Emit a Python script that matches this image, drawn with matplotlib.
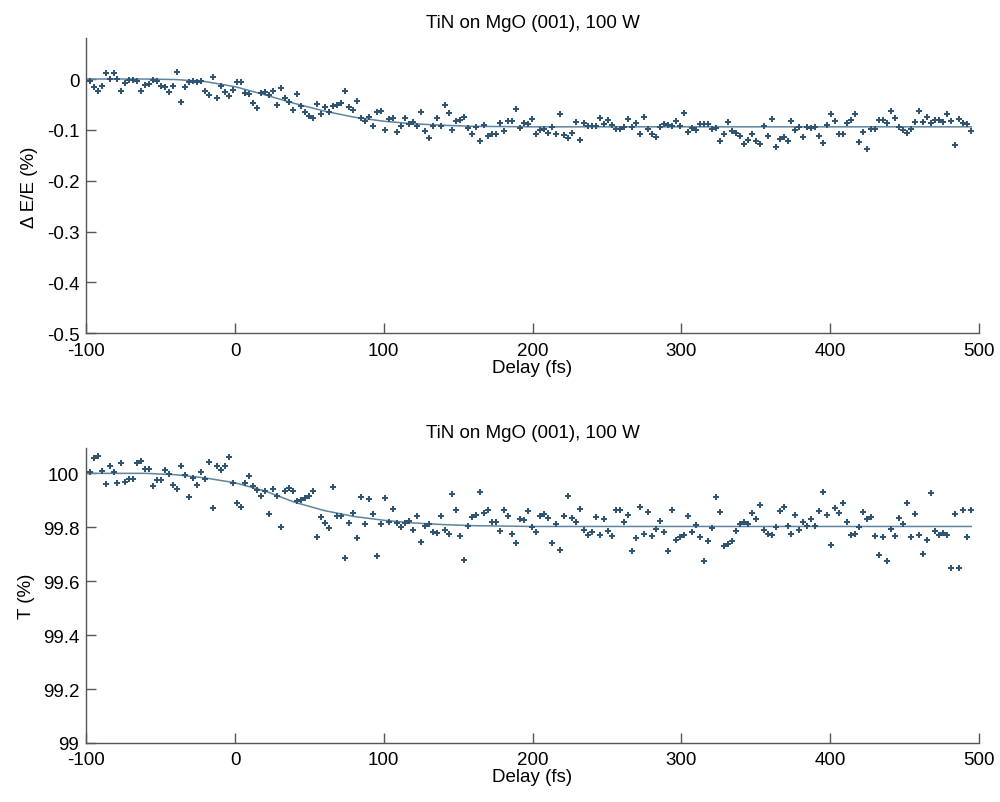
import numpy as np
import matplotlib
matplotlib.use("Agg")
import matplotlib.pyplot as plt

plt.rcParams['font.family'] = ['Liberation Sans', 'DejaVu Sans']

# 上段: ΔE/E (%) の測定値 (約2.67 fs 刻み)
dEE = [
    -0.003, -0.016, -0.023, -0.014, 0.011, 0.000, 0.011, 0.000, -0.023, -0.007,
    -0.001, -0.001, -0.003, -0.023, -0.012, -0.009, -0.001, -0.003, -0.013, -0.016,
    -0.025, -0.013, 0.013, -0.046, -0.016, -0.005, -0.003, -0.005, -0.003, -0.024,
    -0.031, 0.004, -0.037, -0.013, -0.026, -0.034, -0.021, -0.005, -0.005, -0.028,
    -0.029, -0.047, -0.057, -0.028, -0.026, -0.031, -0.024, -0.051, -0.018, -0.037,
    -0.046, -0.060, -0.030, -0.054, -0.064, -0.073,
    -0.076, -0.049, -0.068, -0.055, -0.064, -0.053, -0.051, -0.047, -0.023, -0.055,
    -0.061, -0.043, -0.076, -0.082, -0.074, -0.092, -0.065, -0.063, -0.101, -0.078,
    -0.076, -0.104, -0.092, -0.076, -0.089, -0.084, -0.092, -0.065, -0.103, -0.116,
    -0.092, -0.076, -0.092, -0.051, -0.067, -0.101, -0.082, -0.080, -0.074, -0.097,
    -0.108, -0.095, -0.121, -0.090, -0.112, -0.108, -0.108, -0.087, -0.103, -0.082,
    -0.082, -0.059, -0.097, -0.086, -0.088, -0.078,
    -0.108, -0.100, -0.099, -0.106, -0.095, -0.108, -0.068, -0.111, -0.116, -0.106,
    -0.085, -0.119, -0.087, -0.093, -0.093, -0.093, -0.076, -0.088, -0.080, -0.090,
    -0.099, -0.099, -0.095, -0.078, -0.095, -0.086, -0.108, -0.074, -0.099, -0.109,
    -0.114, -0.095, -0.088, -0.091, -0.093, -0.082, -0.093, -0.066, -0.104, -0.097,
    -0.101, -0.089, -0.088, -0.088, -0.099, -0.097, -0.121, -0.108, -0.084, -0.102,
    -0.106, -0.112, -0.127, -0.119, -0.108, -0.121, -0.127,
    -0.093, -0.112, -0.078, -0.133, -0.117, -0.114, -0.122, -0.082, -0.101, -0.095,
    -0.114, -0.095, -0.097, -0.095, -0.112, -0.126, -0.091, -0.068, -0.082, -0.108,
    -0.108, -0.087, -0.080, -0.069, -0.123, -0.105, -0.137, -0.099, -0.099, -0.080,
    -0.080, -0.087, -0.063, -0.076, -0.095, -0.101, -0.106, -0.099, -0.084, -0.063,
    -0.084, -0.074, -0.086, -0.080, -0.080, -0.084, -0.069, -0.082, -0.129, -0.078,
    -0.086, -0.088, -0.103,
]

# 下段: T (%) の測定値
T = [
    100.004, 100.058, 100.066, 100.009, 99.959, 100.026, 100.004, 99.963, 100.037, 99.967,
    99.980, 99.980, 100.037, 100.044, 100.018, 100.015, 99.952, 99.976, 99.976, 100.012,
    99.997, 99.955, 99.941, 100.029, 99.994, 99.912, 99.984, 99.955, 100.004, 99.980,
    100.041, 99.873, 100.026, 100.012, 100.029, 100.062, 99.963, 99.889, 99.876, 99.963,
    99.990, 99.952, 99.939, 99.916, 99.933, 99.848, 99.941, 99.916, 99.801, 99.933,
    99.944, 99.933, 99.896, 99.901, 99.908, 99.915,
    99.934, 99.763, 99.837, 99.816, 99.799, 99.948, 99.842, 99.842, 99.685, 99.816,
    99.853, 99.759, 99.912, 99.812, 99.905, 99.849, 99.695, 99.812, 99.909, 99.820,
    99.867, 99.816, 99.802, 99.816, 99.823, 99.791, 99.841, 99.746, 99.806, 99.812,
    99.781, 99.778, 99.841, 99.791, 99.774, 99.923, 99.863, 99.767, 99.678, 99.806,
    99.837, 99.844, 99.931, 99.852, 99.863, 99.820, 99.820, 99.785, 99.863, 99.841,
    99.774, 99.742, 99.831, 99.826, 99.859, 99.800,
    99.784, 99.841, 99.849, 99.833, 99.742, 99.812, 99.717, 99.841, 99.916, 99.833,
    99.820, 99.867, 99.791, 99.773, 99.784, 99.837, 99.773, 99.830, 99.788, 99.769,
    99.863, 99.863, 99.820, 99.844, 99.713, 99.759, 99.876, 99.776, 99.855, 99.769,
    99.795, 99.822, 99.784, 99.713, 99.863, 99.752, 99.763, 99.773, 99.841, 99.784,
    99.809, 99.763, 99.674, 99.748, 99.799, 99.912, 99.855, 99.730, 99.737, 99.749,
    99.788, 99.812, 99.820, 99.812, 99.852, 99.829, 99.884,
    99.791, 99.776, 99.773, 99.801, 99.862, 99.876, 99.805, 99.776, 99.844, 99.791,
    99.820, 99.805, 99.830, 99.805, 99.859, 99.930, 99.844, 99.733, 99.873, 99.852,
    99.891, 99.820, 99.773, 99.776, 99.801, 99.855, 99.830, 99.837, 99.769, 99.697,
    99.763, 99.676, 99.795, 99.767, 99.833, 99.812, 99.891, 99.763, 99.848, 99.773,
    99.701, 99.752, 99.926, 99.788, 99.773, 99.780, 99.773, 99.648, 99.848, 99.648,
    99.865, 99.763, 99.865,
]

# フィット曲線 (読み取り値)
fit_t = [-100, -60, -40, -20, 0, 20, 40, 60, 80, 100, 120, 140, 160, 200, 495]
fit_dEE = [0.0, 0.0, -0.001, -0.005, -0.015, -0.031, -0.048, -0.063, -0.075,
           -0.083, -0.088, -0.091, -0.093, -0.094, -0.094]
fit_T = [100.0, 100.0, 99.995, 99.983, 99.965, 99.935, 99.893, 99.862, 99.840,
         99.826, 99.816, 99.810, 99.806, 99.803, 99.803]

# 遅延時間軸 (等間隔ステップ)
delay = np.linspace(-97.8, 494.8, len(dEE))

title = "TiN on MgO (001), 100 W"
pt_color = "#2f5573"
fit_color = "#5d84a0"
spine_color = "#555555"

fig = plt.figure(figsize=(10, 8.03), dpi=100)
ax1 = fig.add_axes([0.0863, 0.5837, 0.8924, 0.3673])
ax2 = fig.add_axes([0.0863, 0.0735, 0.8924, 0.3670])

panels = [
    (ax1, dEE, fit_dEE, (-0.5, 0.08), [-0.5, -0.4, -0.3, -0.2, -0.1, 0],
     ["-0.5", "-0.4", "-0.3", "-0.2", "-0.1", "0"], "\u0394 E/E (%)"),
    (ax2, T, fit_T, (99.0, 100.093), [99, 99.2, 99.4, 99.6, 99.8, 100],
     ["99", "99.2", "99.4", "99.6", "99.8", "100"], "T (%)"),
]

for ax, ys, fit, ylim, yt, ytl, ylab in panels:
    ax.plot(fit_t, fit, color=fit_color, lw=1.1, zorder=2)
    ax.plot(delay, ys, linestyle="none", marker="P", markersize=4.6,
            color=pt_color, markeredgewidth=0, zorder=3)
    ax.set_xlim(-100, 500)
    ax.set_ylim(*ylim)
    ax.set_xticks([-100, 0, 100, 200, 300, 400, 500])
    ax.set_xticklabels(["-100", "0", "100", "200", "300", "400", "500"])
    ax.set_yticks(yt)
    ax.set_yticklabels(ytl)
    ax.spines["top"].set_visible(False)
    ax.spines["right"].set_visible(False)
    for s in ("left", "bottom"):
        ax.spines[s].set_color(spine_color)
        ax.spines[s].set_linewidth(1.0)
    ax.tick_params(direction="in", length=7, width=1.0, color=spine_color,
                   labelsize=13.5)
    ax.tick_params(axis="x", pad=6)
    ax.tick_params(axis="y", pad=5)
    ax.set_title(title, fontsize=13.5, pad=8)
    ax.set_xlabel("Delay (fs)", fontsize=13.5, labelpad=0)
    ax.set_ylabel(ylab, fontsize=13.5, labelpad=6)

fig.savefig("out.png", dpi=100)
